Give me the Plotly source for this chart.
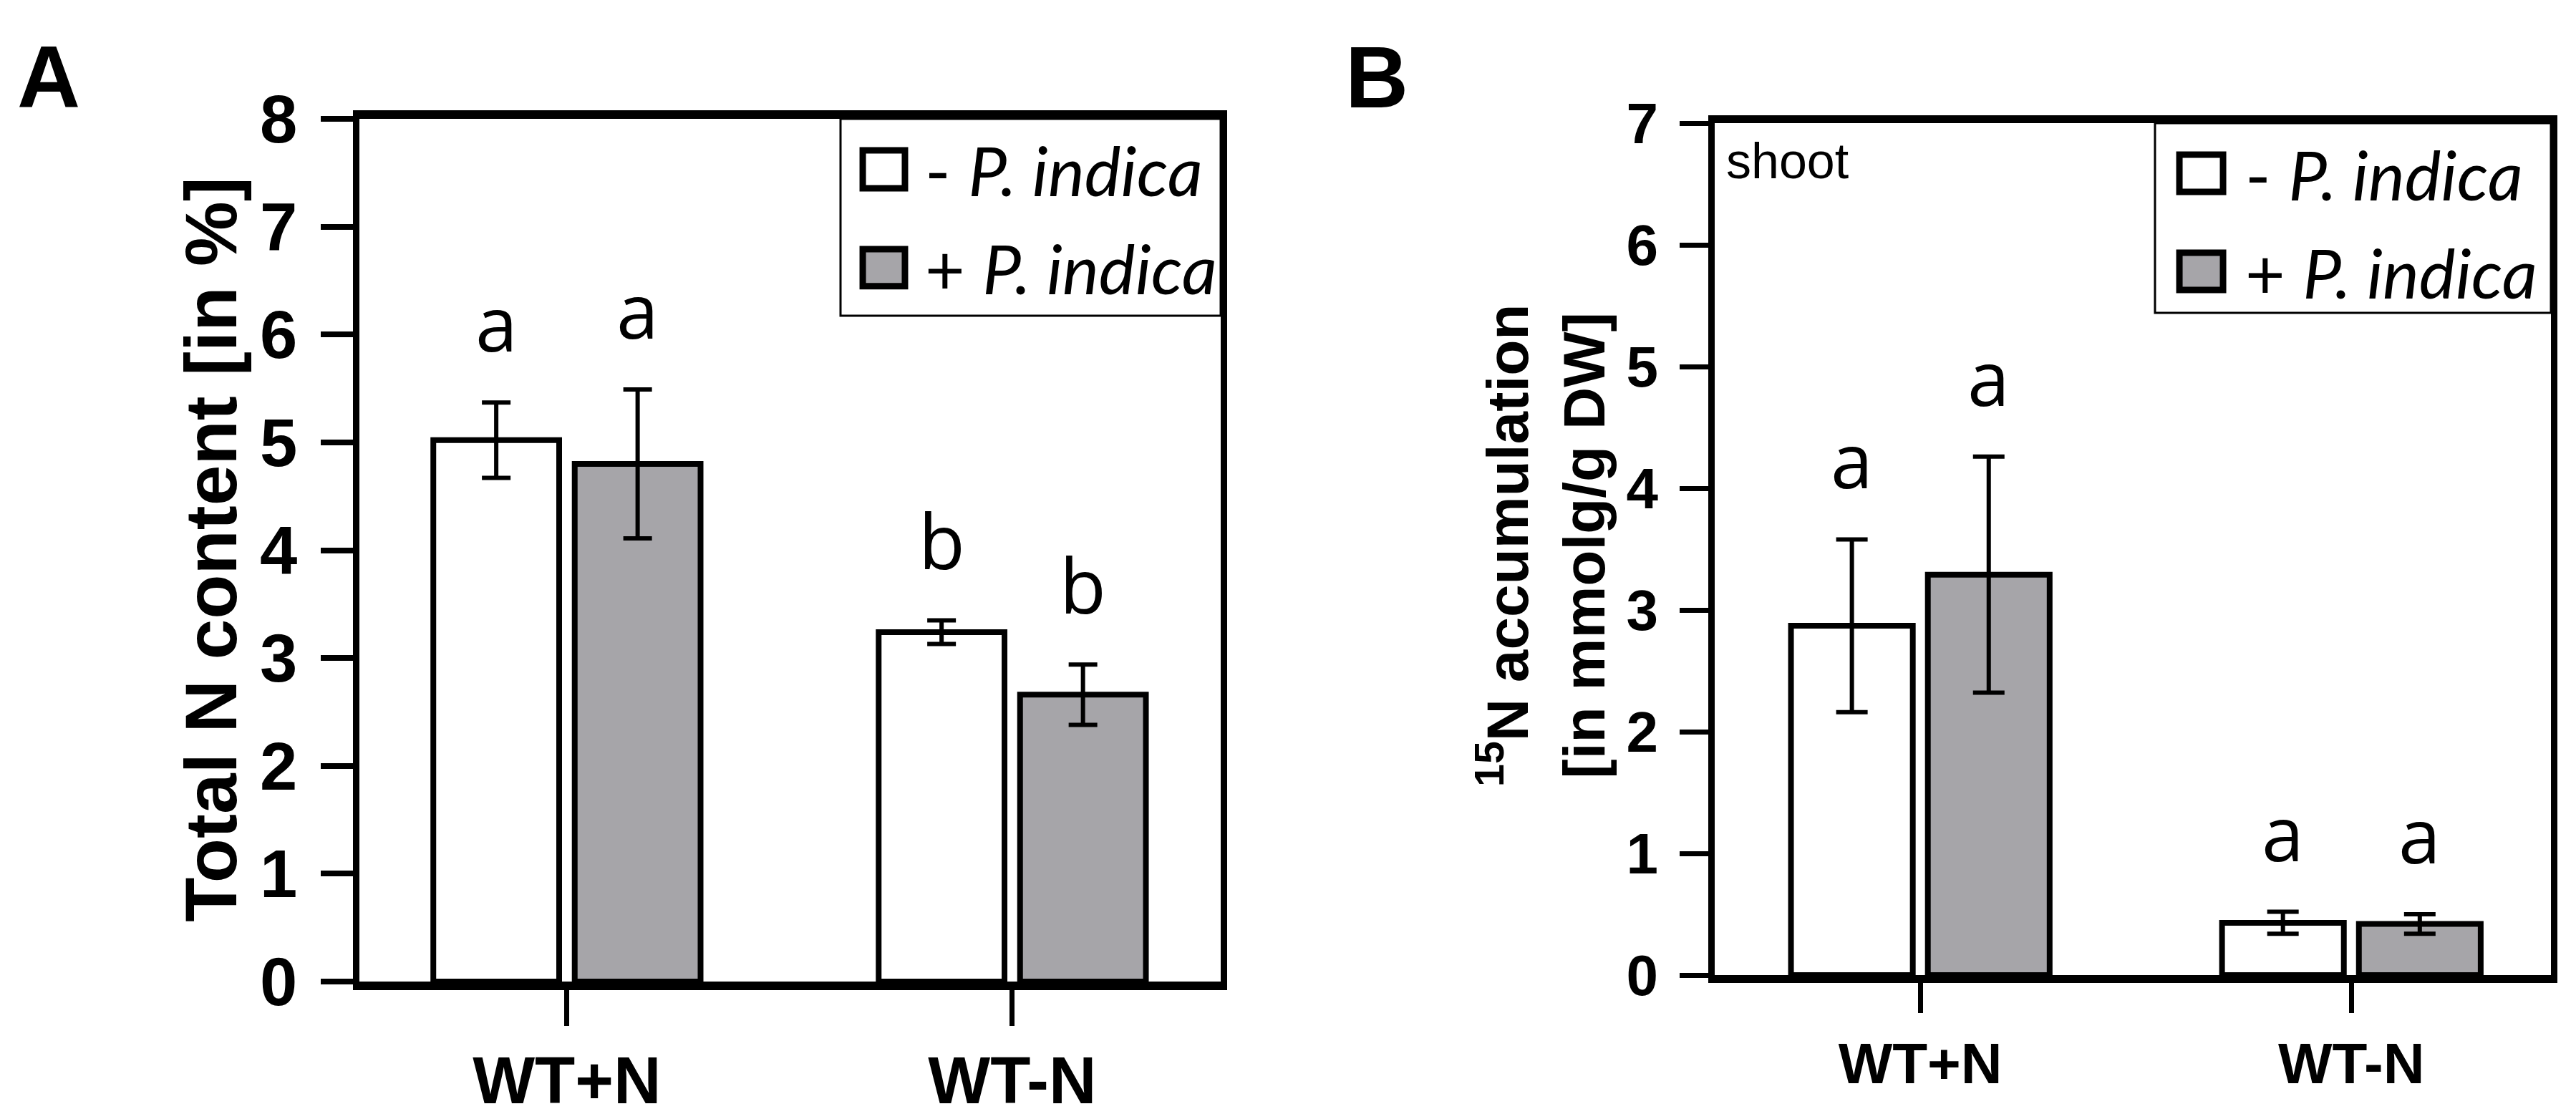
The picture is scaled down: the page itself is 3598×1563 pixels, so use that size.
import plotly.graph_objects as go

# ---------------- data ----------------
categories = ["WT+N", "WT-N"]
series_names = ["-P. indica", "+P. indica"]

# Panel A: Total N content [in %]
a_minus = [5.02, 3.24]
a_minus_err = [0.35, 0.11]
a_plus = [4.80, 2.66]
a_plus_err = [0.69, 0.28]
a_letters_minus = ["a", "b"]
a_letters_plus = ["a", "b"]

# Panel B: 15N accumulation [in mmolg/g DW], shoot
b_minus = [2.87, 0.43]
b_minus_err = [0.71, 0.09]
b_plus = [3.29, 0.42]
b_plus_err = [0.97, 0.08]
b_letters_minus = ["a", "a"]
b_letters_plus = ["a", "a"]

a_yticks = [0, 1, 2, 3, 4, 5, 6, 7, 8]
b_yticks = [0, 1, 2, 3, 4, 5, 6, 7]

# ---------------- style ----------------
W, H = 3598, 1563
GRAY = "#A6A5A9"
BOLD = "Liberation Sans, Arial, sans-serif"
HUM = "Open Sans, sans-serif"
LEG = "Lato, Open Sans, sans-serif"
BARGAP = 0.365
GROUPGAP = 0.11
OFF = (1 - BARGAP) / 4.0

fig = go.Figure()

def add_bars(xa, ya, minus, minus_err, plus, plus_err, capw):
    fig.add_trace(go.Bar(
        x=categories, y=minus, name=series_names[0], xaxis=xa, yaxis=ya,
        marker=dict(color="white", line=dict(color="black", width=8)),
        error_y=dict(type="data", array=minus_err, color="black", thickness=6, width=capw),
        showlegend=False))
    fig.add_trace(go.Bar(
        x=categories, y=plus, name=series_names[1], xaxis=xa, yaxis=ya,
        marker=dict(color=GRAY, line=dict(color="black", width=8)),
        error_y=dict(type="data", array=plus_err, color="black", thickness=6, width=capw),
        showlegend=False))

add_bars("x", "y", a_minus, a_minus_err, a_plus, a_plus_err, 20)
add_bars("x2", "y2", b_minus, b_minus_err, b_plus, b_plus_err, 22)

def px_dom(x0, x1, y0, y1):
    # pixel box -> paper domain
    return [x0 / W, x1 / W], [1 - y1 / H, 1 - y0 / H]

ax_dom, ay_dom = px_dom(494, 1697, 158, 1363)
bx_dom, by_dom = px_dom(2387, 3555, 164, 1354)

common_x = dict(type="category", showgrid=False, zeroline=False, showline=True,
                linecolor="black", mirror=True, ticks="outside", tickcolor="black",
                automargin=False)
common_y = dict(showgrid=False, zeroline=False, showline=True, linecolor="black",
                mirror=True, ticks="outside", tickcolor="black", automargin=False)

fig.update_layout(
    width=W, height=H, margin=dict(l=0, r=0, t=0, b=0, pad=0, autoexpand=False),
    paper_bgcolor="white", plot_bgcolor="white",
    barmode="group", bargap=BARGAP, bargroupgap=GROUPGAP,
    showlegend=False,
    xaxis=dict(common_x, domain=ax_dom, anchor="y", range=[-0.466, 1.468],
               linewidth=12, ticklen=50, tickwidth=7,
               tickfont=dict(family=BOLD, size=92, color="black", weight="bold"),
               ticklabelstandoff=-2),
    yaxis=dict(common_y, domain=ay_dom, anchor="x", range=[0, 8], tickvals=a_yticks,
               linewidth=9, ticklen=45, tickwidth=8,
               tickfont=dict(family=BOLD, size=94, color="black", weight="bold"),
               ticklabelstandoff=14),
    xaxis2=dict(common_x, domain=bx_dom, anchor="y2", range=[-0.477, 1.463],
                linewidth=11, ticklen=42, tickwidth=7,
                tickfont=dict(family=BOLD, size=80, color="black", weight="bold"),
                ticklabelstandoff=2),
    yaxis2=dict(common_y, domain=by_dom, anchor="x2", range=[0, 7], tickvals=b_yticks,
                linewidth=9, ticklen=40, tickwidth=7,
                tickfont=dict(family=BOLD, size=80, color="black", weight="bold"),
                ticklabelstandoff=14),
)

annotations = []

# significance letters above the error bars
def letters(xa, ya, minus, minus_err, plus, plus_err, lm, lp):
    for i in range(len(categories)):
        for val, err, lab, sgn in ((minus[i], minus_err[i], lm[i], -1), (plus[i], plus_err[i], lp[i], 1)):
            annotations.append(dict(
                x=i + sgn * OFF, y=val + err, xref=xa, yref=ya, text=lab,
                showarrow=False, xanchor="center", yanchor="bottom", yshift=38,
                font=dict(family=HUM, size=106, color="black")))

letters("x", "y", a_minus, a_minus_err, a_plus, a_plus_err, a_letters_minus, a_letters_plus)
letters("x2", "y2", b_minus, b_minus_err, b_plus, b_plus_err, b_letters_minus, b_letters_plus)

# y-axis titles
annotations.append(dict(x=287 / W, y=1 - 760 / H, xref="paper", yref="paper",
                        text="Total N content [in %]", textangle=-90, showarrow=False,
                        xanchor="center", yanchor="middle",
                        font=dict(family=BOLD, size=102, color="black", weight="bold")))
annotations.append(dict(x=2145 / W, y=1 - 754 / H, xref="paper", yref="paper",
                        text="<sup>15</sup>N accumulation<br>[in mmolg/g DW]", textangle=-90,
                        showarrow=False, xanchor="center", yanchor="middle",
                        font=dict(family=BOLD, size=82, color="black", weight="bold")))

# panel letters
annotations.append(dict(x=60 / W, y=1 - 100 / H, xref="paper", yref="paper", text="A",
                        showarrow=False, xanchor="center", yanchor="middle",
                        font=dict(family=BOLD, size=122, color="black", weight="bold")))
annotations.append(dict(x=1915 / W, y=1 - 100 / H, xref="paper", yref="paper", text="B",
                        showarrow=False, xanchor="center", yanchor="middle",
                        font=dict(family=BOLD, size=122, color="black", weight="bold")))

# "shoot" label
annotations.append(dict(x=0.012, y=0.99, xref="x2 domain", yref="y2 domain", text="shoot",
                        showarrow=False, xanchor="left", yanchor="top",
                        font=dict(family=BOLD, size=70, color="black")))

shapes = []

# legends (drawn as boxes inside each panel)
def legend(xa, ya, box_left, box_bottom, mk_x, rows, txt_x, size):
    shapes.append(dict(type="rect", xref=xa + " domain", yref=ya + " domain",
                       x0=box_left, x1=1.0, y0=box_bottom, y1=1.0,
                       line=dict(color="black", width=3), fillcolor="white", layer="above"))
    fills = ["white", GRAY]
    for (y0, y1), fill, name in zip(rows, fills, series_names):
        shapes.append(dict(type="rect", xref=xa + " domain", yref=ya + " domain",
                           x0=mk_x[0], x1=mk_x[1], y0=y0, y1=y1,
                           line=dict(color="black", width=9), fillcolor=fill, layer="above"))
        annotations.append(dict(x=txt_x, y=(y0 + y1) / 2, xref=xa + " domain", yref=ya + " domain",
                                text=name[0] + " <i>" + name[1:] + "</i>", showarrow=False,
                                xanchor="left", yanchor="middle",
                                font=dict(family=LEG, size=size, color="black")))

legend("x", "y", 0.5586, 0.7718, (0.5844, 0.6334), [(0.9195, 0.9635), (0.806, 0.849)], 0.655, 96)
legend("x2", "y2", 0.5265, 0.7773, (0.5557, 0.6079), [(0.9193, 0.963), (0.8042, 0.8479)], 0.633, 96)

fig.update_layout(annotations=annotations, shapes=shapes)
fig.write_html("out.html")
